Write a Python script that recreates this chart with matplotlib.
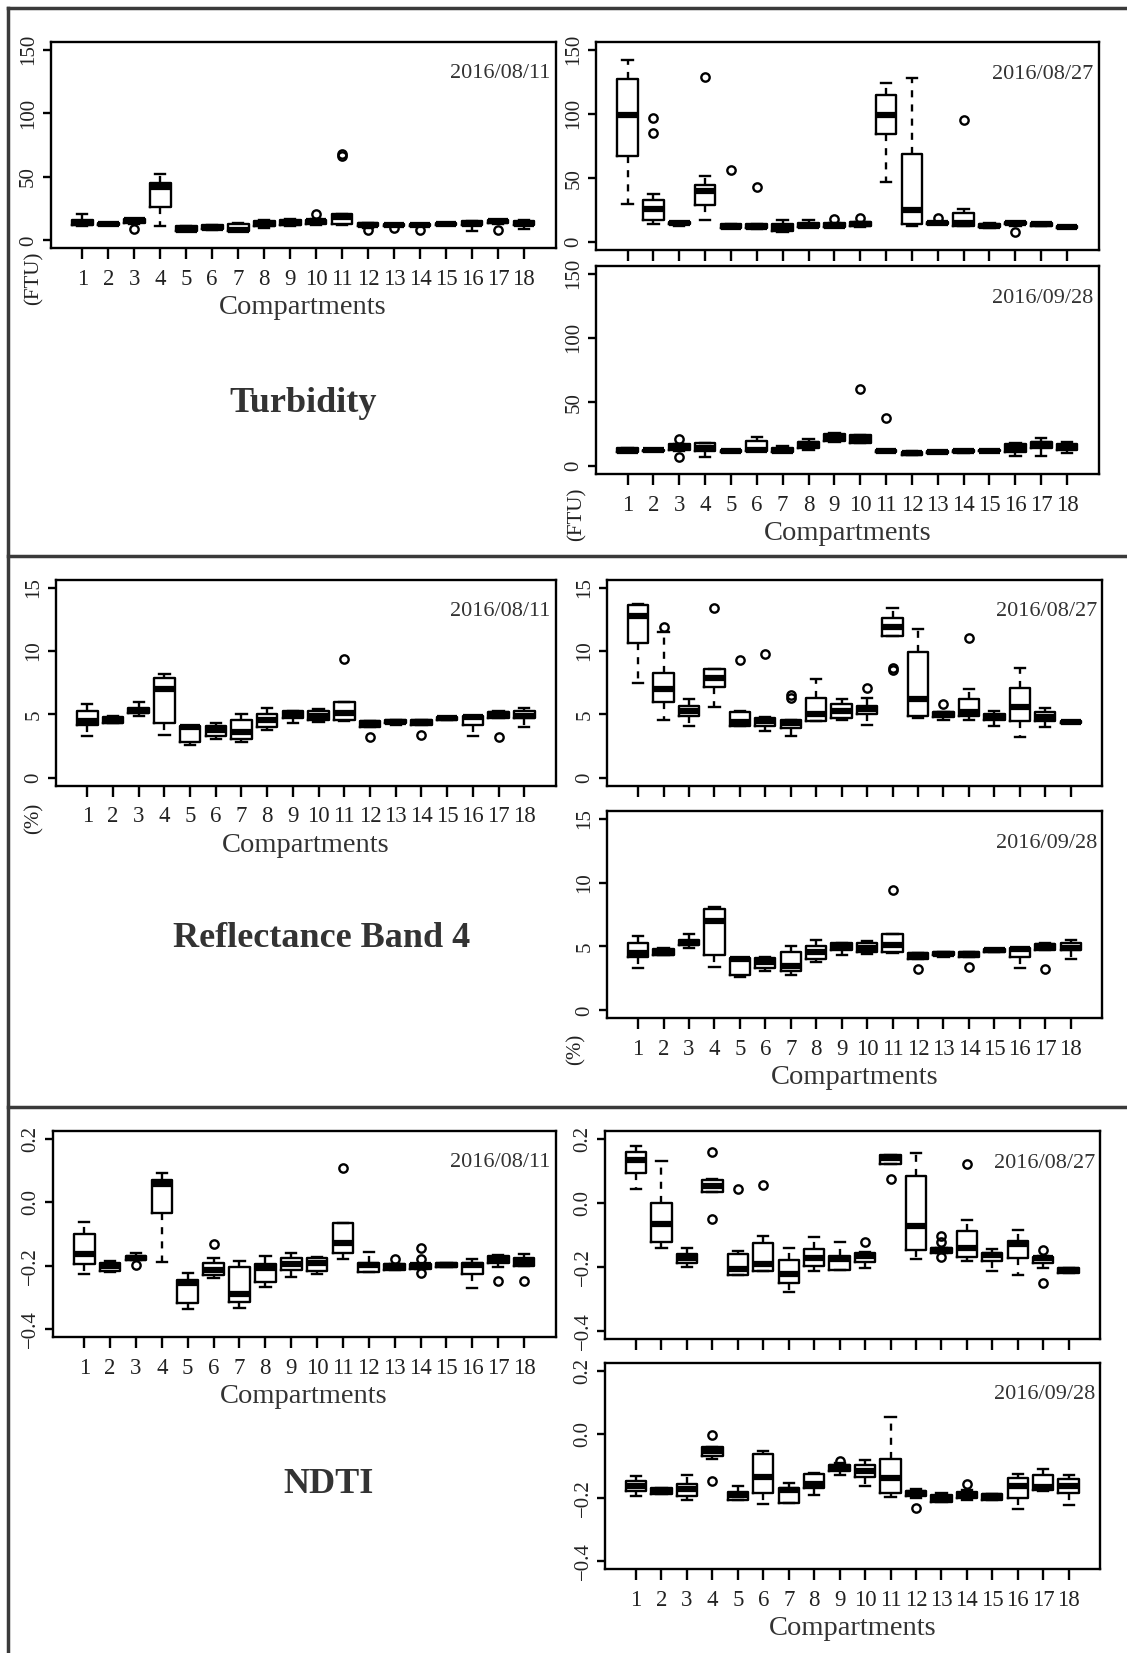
import matplotlib
matplotlib.use("Agg")
import matplotlib.pyplot as plt
from matplotlib.lines import Line2D

plt.rcParams['font.family'] = ['Liberation Serif', 'DejaVu Serif']

W, H = 1127, 1653
compartments = list(range(1, 19))

# box stats per compartment: (whisker low, q1, median, q3, whisker high)
turb_0811 = [(11, 12, 14, 16, 21), (12, 12, 13, 14, 14), (13, 14, 16, 17, 17),
             (11, 26, 42, 45, 52), (7, 7.5, 8, 11, 11), (8, 9, 10, 12, 12),
             (7, 7, 8, 13, 14), (10, 11, 13, 15, 16), (11, 12, 14, 16, 17),
             (12, 13, 15, 16, 17), (12, 13, 18, 21, 21), (10, 11, 12, 14, 14),
             (11, 11, 12, 13, 13), (11, 11, 12, 13, 13), (12, 12, 13, 14, 14),
             (7, 12, 13, 15, 15), (13, 14, 15, 16, 16), (9, 12, 13, 15, 16)]
turb_0811_out = {3: [9], 10: [21], 11: [66, 68], 12: [8], 13: [10], 14: [8], 17: [8]}

turb_0827 = [(30, 67, 99, 127, 142), (14, 17, 26, 33, 38), (13, 14, 15, 16, 16),
             (17, 29, 40, 45, 52), (11, 11, 12, 14, 14), (10, 11, 12, 14, 14),
             (8, 9, 11, 14, 17), (12, 12, 13, 15, 17), (12, 12, 13, 15, 15),
             (12, 13, 14, 16, 16), (47, 84, 99, 115, 124), (13, 14, 25, 69, 128),
             (14, 14, 15, 16, 16), (13, 13, 15, 23, 26), (11, 12, 13, 14, 15),
             (13, 14, 15, 16, 16), (13, 13, 14, 15, 15), (11, 11, 12, 13, 13)]
turb_0827_out = {2: [85, 97], 4: [129], 5: [56], 6: [43], 9: [18], 10: [19],
                 13: [19], 14: [95], 16: [8]}

turb_0928 = [(11, 11, 12, 14, 14), (12, 12, 13, 13, 13), (12, 13, 15, 17, 17),
             (7, 12, 14, 18, 18), (11, 11, 12, 13, 13), (12, 12, 13, 20, 23),
             (11, 11, 12, 14, 16), (13, 14, 17, 19, 21), (19, 20, 23, 25, 26),
             (18, 18, 21, 24, 24), (11, 11, 12, 13, 13), (9, 9, 10, 11, 12),
             (10, 10, 11, 12, 12), (10, 11, 12, 13, 13), (12, 12, 12, 13, 13),
             (8, 11, 14, 17, 18), (8, 14, 17, 19, 22), (10, 13, 15, 17.5, 19)]
turb_0928_out = {3: [7, 21], 10: [60], 11: [38]}

refl_0811 = [(3.3, 4.2, 4.5, 5.3, 5.8), (4.3, 4.3, 4.5, 4.8, 4.9), (4.9, 5.1, 5.3, 5.5, 6.0),
             (3.4, 4.3, 7.0, 7.9, 8.2), (2.6, 2.8, 4.0, 4.1, 4.1), (3.1, 3.3, 3.8, 4.1, 4.3),
             (2.8, 3.1, 3.6, 4.6, 5.0), (3.8, 4.0, 4.6, 5.0, 5.5), (4.3, 4.7, 5.0, 5.3, 5.3),
             (4.4, 4.6, 4.9, 5.3, 5.4), (4.5, 4.6, 5.1, 6.0, 6.0), (4.0, 4.0, 4.3, 4.5, 4.5),
             (4.2, 4.3, 4.4, 4.6, 4.6), (4.2, 4.2, 4.4, 4.6, 4.6), (4.6, 4.6, 4.7, 4.8, 4.8),
             (3.3, 4.2, 4.8, 4.9, 4.9), (4.7, 4.7, 5.0, 5.2, 5.3), (4.0, 4.7, 4.9, 5.3, 5.5)]
refl_0811_out = {11: [9.4], 12: [3.2], 14: [3.4], 17: [3.2]}

refl_0827 = [(7.5, 10.6, 12.8, 13.6, 13.7), (4.6, 6.0, 7.0, 8.3, 11.5), (4.1, 4.9, 5.3, 5.7, 6.2),
             (5.6, 7.2, 7.9, 8.6, 8.6), (4.1, 4.1, 4.4, 5.2, 5.3), (3.7, 4.1, 4.5, 4.7, 4.8),
             (3.3, 3.9, 4.3, 4.6, 4.6), (4.5, 4.5, 5.0, 6.3, 7.8), (4.6, 4.7, 5.3, 5.8, 6.2),
             (4.2, 5.0, 5.4, 5.7, 6.3), (11.2, 11.2, 11.9, 12.6, 13.4), (4.7, 4.9, 6.2, 9.9, 11.7),
             (4.6, 4.8, 5.0, 5.2, 5.2), (4.6, 4.9, 5.2, 6.2, 7.0), (4.1, 4.6, 4.8, 5.0, 5.3),
             (3.2, 4.5, 5.6, 7.1, 8.7), (4.0, 4.5, 4.8, 5.2, 5.5), (4.3, 4.3, 4.4, 4.5, 4.5)]
refl_0827_out = {2: [11.9], 4: [13.4], 5: [9.3], 6: [9.8], 7: [6.3, 6.5], 10: [7.1],
                 11: [8.5, 8.7], 13: [5.8], 14: [11.0]}

refl_0928 = [(3.3, 4.2, 4.5, 5.3, 5.8), (4.3, 4.3, 4.5, 4.8, 4.9), (4.9, 5.1, 5.3, 5.5, 6.0),
             (3.4, 4.3, 7.0, 7.9, 8.1), (2.6, 2.8, 4.0, 4.1, 4.1), (3.1, 3.3, 3.8, 4.1, 4.2),
             (2.8, 3.1, 3.5, 4.6, 5.0), (3.8, 4.0, 4.6, 5.0, 5.5), (4.3, 4.7, 5.0, 5.3, 5.3),
             (4.4, 4.6, 4.9, 5.3, 5.4), (4.5, 4.6, 5.1, 6.0, 6.0), (4.0, 4.0, 4.3, 4.5, 4.5),
             (4.2, 4.3, 4.4, 4.6, 4.6), (4.2, 4.2, 4.4, 4.6, 4.6), (4.6, 4.6, 4.7, 4.8, 4.8),
             (3.3, 4.2, 4.8, 4.9, 4.9), (4.7, 4.7, 5.0, 5.2, 5.3), (4.0, 4.7, 4.9, 5.3, 5.5)]
refl_0928_out = {11: [9.4], 12: [3.2], 14: [3.4], 17: [3.2]}

ndti_0811 = [(-0.225, -0.194, -0.162, -0.099, -0.061), (-0.218, -0.215, -0.202, -0.192, -0.185),
             (-0.181, -0.181, -0.175, -0.168, -0.159), (-0.188, -0.035, 0.058, 0.070, 0.092),
             (-0.335, -0.317, -0.253, -0.244, -0.222), (-0.239, -0.230, -0.212, -0.191, -0.175),
             (-0.333, -0.314, -0.288, -0.204, -0.186), (-0.267, -0.251, -0.206, -0.194, -0.170),
             (-0.234, -0.212, -0.194, -0.175, -0.160), (-0.225, -0.215, -0.191, -0.175, -0.173),
             (-0.178, -0.159, -0.128, -0.065, -0.065), (-0.218, -0.218, -0.199, -0.191, -0.157),
             (-0.212, -0.212, -0.201, -0.194, -0.194), (-0.209, -0.209, -0.199, -0.194, -0.194),
             (-0.204, -0.204, -0.197, -0.192, -0.192), (-0.270, -0.227, -0.199, -0.191, -0.178),
             (-0.204, -0.191, -0.178, -0.168, -0.165), (-0.201, -0.201, -0.188, -0.175, -0.164)]
ndti_0811_out = {3: [-0.199], 6: [-0.133], 11: [0.108], 13: [-0.178],
                 14: [-0.143, -0.178, -0.222], 17: [-0.248], 18: [-0.248]}

ndti_0827 = [(0.042, 0.094, 0.135, 0.159, 0.177), (-0.141, -0.123, -0.066, -0.001, 0.131),
             (-0.199, -0.188, -0.173, -0.158, -0.139), (0.033, 0.033, 0.054, 0.072, 0.075),
             (-0.226, -0.226, -0.207, -0.160, -0.149), (-0.212, -0.212, -0.189, -0.126, -0.104),
             (-0.278, -0.251, -0.223, -0.178, -0.142), (-0.212, -0.196, -0.173, -0.144, -0.106),
             (-0.210, -0.210, -0.176, -0.165, -0.123), (-0.202, -0.184, -0.165, -0.157, -0.152),
             (0.122, 0.122, 0.140, 0.148, 0.150), (-0.176, -0.146, -0.071, 0.083, 0.154),
             (-0.155, -0.155, -0.147, -0.141, -0.141), (-0.181, -0.167, -0.142, -0.089, -0.052),
             (-0.212, -0.181, -0.163, -0.155, -0.144), (-0.226, -0.172, -0.129, -0.118, -0.085),
             (-0.202, -0.186, -0.173, -0.167, -0.165), (-0.219, -0.219, -0.209, -0.202, -0.202)]
ndti_0827_out = {4: [0.159, -0.050], 5: [0.042], 6: [0.057], 10: [-0.123], 11: [0.073],
                 13: [-0.102, -0.123, -0.167], 14: [0.122], 17: [-0.146, -0.251]}

ndti_0928 = [(-0.195, -0.180, -0.164, -0.148, -0.133), (-0.188, -0.188, -0.180, -0.169, -0.169),
             (-0.208, -0.193, -0.172, -0.157, -0.127), (-0.078, -0.068, -0.052, -0.039, -0.039),
             (-0.206, -0.206, -0.190, -0.182, -0.162), (-0.218, -0.185, -0.136, -0.063, -0.054),
             (-0.216, -0.216, -0.177, -0.169, -0.153), (-0.190, -0.169, -0.157, -0.125, -0.122),
             (-0.127, -0.115, -0.104, -0.098, -0.092), (-0.164, -0.136, -0.115, -0.096, -0.080),
             (-0.197, -0.185, -0.138, -0.078, 0.055), (-0.200, -0.195, -0.185, -0.180, -0.172),
             (-0.213, -0.213, -0.200, -0.192, -0.185), (-0.208, -0.200, -0.192, -0.183, -0.176),
             (-0.206, -0.206, -0.195, -0.189, -0.189), (-0.234, -0.200, -0.164, -0.138, -0.125),
             (-0.180, -0.177, -0.167, -0.129, -0.110), (-0.223, -0.185, -0.164, -0.141, -0.127)]
ndti_0928_out = {4: [-0.004, -0.146], 9: [-0.083], 12: [-0.232], 14: [-0.157]}

turb_ticks = [0, 50, 100, 150]
refl_ticks = [0, 5, 10, 15]
ndti_ticks = [-0.4, -0.2, 0.0, 0.2]
ndti_ticklabels = ["\u22120.4", "\u22120.2", "0.0", "0.2"]

fig = plt.figure(figsize=(W / 100, H / 100), dpi=100)


def new_axes(x0, y0, x1, y1):
    return fig.add_axes([x0 / W, 1 - y1 / H, (x1 - x0) / W, (y1 - y0) / H])


def draw_panel(ax, rows, outliers, ticks, ticklabels, date, xlabels=True):
    stats = []
    for i, (lo, q1, med, q3, hi) in enumerate(rows):
        stats.append(dict(whislo=lo, q1=q1, med=med, q3=q3, whishi=hi,
                          fliers=outliers.get(i + 1, [])))
    ax.bxp(stats, positions=compartments, widths=0.8, capwidths=0.4,
           boxprops=dict(color='black', lw=1.7),
           medianprops=dict(color='black', lw=4.5, solid_capstyle='butt'),
           whiskerprops=dict(color='black', lw=1.7, linestyle=(0, (3, 3))),
           capprops=dict(color='black', lw=1.7),
           flierprops=dict(marker='o', markerfacecolor='none', markeredgecolor='black',
                           markersize=6, markeredgewidth=1.7))
    lo, hi = ticks[0], ticks[-1]
    pad = 0.04 * (hi - lo)
    ax.set_ylim(lo - pad, hi + pad)
    ax.set_xlim(0.5 - 0.72, 18.5 + 0.72)
    ax.set_yticks(ticks)
    ax.set_yticklabels(ticklabels, rotation=90, va='center', fontsize=15, color='#222')
    ax.set_xticks(compartments)
    if xlabels:
        ax.set_xticklabels([str(c) for c in compartments], fontsize=16.5, color='#222')
        ax.set_xlabel("Compartments", fontsize=20.5, color='#333', labelpad=4)
    else:
        ax.set_xticklabels([])
    ax.tick_params(axis='x', length=8, width=1.7, pad=7)
    ax.tick_params(axis='y', length=6, width=1.7, pad=3)
    for s in ax.spines.values():
        s.set_linewidth(1.7)
    ax.text(0.99, 0.845, date, transform=ax.transAxes, ha='right', va='center',
            fontsize=16, color='#333')


sections = [
    dict(title="Turbidity", unit="(FTU)", ticks=turb_ticks, labels=[str(t) for t in turb_ticks],
         data=[(turb_0811, turb_0811_out), (turb_0827, turb_0827_out), (turb_0928, turb_0928_out)],
         boxes=[(50.6, 42, 555.6, 248), (596, 42, 1098.6, 250), (596, 266, 1098.6, 474)],
         title_xy=(303.6, 403.8), unit_xy=[(33.7, 278), (576.7, 514)]),
    dict(title="Reflectance Band 4", unit="(%)", ticks=refl_ticks, labels=[str(t) for t in refl_ticks],
         data=[(refl_0811, refl_0811_out), (refl_0827, refl_0827_out), (refl_0928, refl_0928_out)],
         boxes=[(55.9, 580, 555.6, 785.5), (607, 580, 1101.8, 785.5), (607, 811, 1101.8, 1018)],
         title_xy=(321.6, 938.3), unit_xy=[(33.7, 818), (576, 1049)]),
    dict(title="NDTI", unit=None, ticks=ndti_ticks, labels=ndti_ticklabels,
         data=[(ndti_0811, ndti_0811_out), (ndti_0827, ndti_0827_out), (ndti_0928, ndti_0928_out)],
         boxes=[(52.7, 1131, 555.6, 1337), (605, 1131, 1099.7, 1339), (605, 1363, 1099.7, 1569)],
         title_xy=(329, 1484.5), unit_xy=[]),
]
dates = ["2016/08/11", "2016/08/27", "2016/09/28"]

for sec in sections:
    for k, (rows, outs) in enumerate(sec['data']):
        ax = new_axes(*sec['boxes'][k])
        draw_panel(ax, rows, outs, sec['ticks'], sec['labels'], dates[k], xlabels=(k != 1))
    tx, ty = sec['title_xy']
    fig.text(tx / W, 1 - ty / H, sec['title'], ha='center', va='center',
             fontsize=26, fontweight='bold', color='#333')
    if sec['unit']:
        for ux, uy in sec['unit_xy']:
            fig.text(ux / W, 1 - uy / H, sec['unit'], ha='center', va='center',
                     rotation=90, fontsize=15, color='#222')

# frame lines around the sections
frame = dict(color='#3a3a3a', lw=2.5, transform=fig.transFigure)
fig.add_artist(Line2D([8.4 / W, 8.4 / W], [0, 1 - 8.4 / H], **frame))
fig.add_artist(Line2D([8.4 / W, 1], [1 - 8.4 / H, 1 - 8.4 / H], **frame))
for yy in (555.6, 1107):
    fig.add_artist(Line2D([8.4 / W, 1], [1 - yy / H, 1 - yy / H], **frame))

fig.savefig("out.png", dpi=100, facecolor='white')
